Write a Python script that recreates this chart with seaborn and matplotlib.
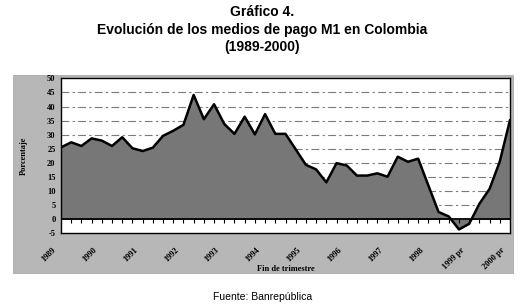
import numpy as np
import pandas as pd
import matplotlib
matplotlib.use("Agg")
import matplotlib.pyplot as plt
import matplotlib.transforms as mtransforms
import seaborn as sns
from matplotlib.patches import Rectangle

# Quarterly growth of M1 (%), 1989Q1 .. 2000Q1
values = [25.5, 27.3, 26.0, 28.7, 27.9, 26.0, 29.1, 25.2, 24.2, 25.4,
          29.6, 31.4, 33.5, 44.1, 35.5, 40.8, 33.8, 30.3, 36.4, 30.1,
          37.3, 30.3, 30.3, 24.8, 19.3, 17.7, 13.1, 19.9, 19.1, 15.5,
          15.5, 16.3, 15.1, 22.2, 20.4, 21.5, 12.0, 2.6, 1.0, -3.6,
          -1.6, 5.5, 10.8, 20.5, 35.2]
year_labels = ["1989", "1990", "1991", "1992", "1993", "1994", "1995",
               "1996", "1997", "1998", "1999 pr", "2000 pr"]
y_ticks = [-5, 0, 5, 10, 15, 20, 25, 30, 35, 40, 45, 50]

df = pd.DataFrame({"q": np.arange(len(values)), "v": values})

sns.set_theme(style="white")
plt.rcParams["font.family"] = ["Liberation Sans", "DejaVu Sans"]
plt.rcParams["text.color"] = "black"
plt.rcParams["axes.labelcolor"] = "black"
plt.rcParams["xtick.color"] = "black"
plt.rcParams["ytick.color"] = "black"

W, H = 525, 306
fig = plt.figure(figsize=(W / 100, H / 100), dpi=100)
fig.patch.set_facecolor("white")

# gray chart panel
fig.patches.append(Rectangle((13 / W, 1 - 273 / H), 500 / W, 198 / H,
                             transform=fig.transFigure, facecolor="#b7b7b7",
                             edgecolor="#aaaaaa", lw=0.6, zorder=-5))

ax = fig.add_axes([61 / W, 1 - 233.4 / H, 449 / W, 155.1 / H])
ax.set_zorder(2)
ax.set_facecolor("white")

# grid lines
for g in y_ticks[2:-1]:
    ax.axhline(g, color="#7a7a7a", lw=0.8, dashes=(7, 3, 2, 3), zorder=1)

ax.fill_between(df["q"], 0, df["v"], color="#777777", lw=0, zorder=2)
sns.lineplot(data=df, x="q", y="v", ax=ax, color="black", lw=1.8, zorder=3)
ax.axhline(0, color="black", lw=1.3, zorder=4)
ax.vlines(df["q"], -1.4, 0, color="black", lw=0.8, zorder=4)

ax.set_xlim(0, len(values) - 1)
ax.set_ylim(-5, 50)
ax.set_yticks(y_ticks)
ax.set_yticklabels([str(t) for t in y_ticks], fontfamily="Liberation Serif",
                   fontweight="bold", fontsize=6)
ax.set_xticks(np.arange(0, len(values), 4))
ax.set_xticklabels(year_labels, rotation=45, ha="right",
                   rotation_mode="anchor", fontfamily="Liberation Serif",
                   fontweight="bold", fontsize=6)
ax.tick_params(axis="x", length=0, pad=9)
ax.tick_params(axis="y", length=0, pad=4)
shift = mtransforms.ScaledTranslation(-9 / 100, 0, fig.dpi_scale_trans)
for lab in ax.get_xticklabels():
    lab.set_transform(lab.get_transform() + shift)
ax.set_xlabel("Fin de trimestre", fontfamily="Liberation Serif",
              fontweight="bold", fontsize=6)
ax.xaxis.set_label_coords(0.5, -0.205)
ax.set_ylabel("Porcentaje", fontfamily="Liberation Serif",
              fontweight="bold", fontsize=6, labelpad=14)
for s in ax.spines.values():
    s.set_visible(True)
    s.set_color("black")
    s.set_linewidth(1.0)

fig.text(0.5, 1 - 12 / H, "Gráfico 4.", ha="center", va="center",
         fontsize=10, fontweight="bold")
fig.text(0.5, 1 - 30 / H, "Evolución de los medios de pago M1 en Colombia",
         ha="center", va="center", fontsize=10, fontweight="bold")
fig.text(0.5, 1 - 47 / H, "(1989-2000)", ha="center", va="center",
         fontsize=10, fontweight="bold")
fig.text(0.5, 1 - 297 / H, "Fuente: Banrepública", ha="center", va="center",
         fontsize=7.5)

fig.savefig("out.png", dpi=100)
